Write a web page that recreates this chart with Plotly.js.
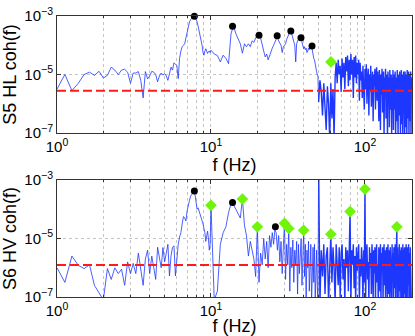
<!DOCTYPE html>
<html>
<head>
<meta charset="utf-8">
<script src="https://cdn.plot.ly/plotly-3.0.1.min.js"></script>
<style>
  html, body { margin: 0; padding: 0; background: #fff; }
  #chart { width: 415px; height: 336px; }
</style>
</head>
<body>
<div id="chart"></div>
<script>
// Coherence spectra as log10(coh) per frequency bin.
// Bins: 1-10 Hz every 0.125 Hz, 10.5-50 Hz every 0.5 Hz, 51-200 Hz every 1 Hz.

// S5 HL
const hlLowLog = [
  -5.5, -5.0, -5.55, -5.3, -5.0, -4.92, -5.03, -4.89,
  -5.12, -5.03, -4.75, -4.85, -5.0, -4.85, -4.82, -4.92,
  -5.3, -4.95, -4.95, -4.9, -5.2, -5.8, -4.9, -5.15,
  -5.05, -4.89, -4.92, -5.0, -5.25, -5.05, -4.95, -5.02,
  -4.97, -5.05, -5.2, -4.9, -4.75, -4.85, -4.6, -4.65,
  -4.7, -5.14, -4.45, -4.2, -4.05, -4.0, -3.95, -3.75,
  -3.55, -3.35, -3.2, -3.12, -3.07, -3.04, -3.0, -3.03,
  -3.1, -3.2, -3.35, -3.5, -3.65, -3.8, -4.0, -4.25,
  -4.34, -4.2, -4.12, -4.2, -4.28, -4.22, -4.2, -4.25,
  -4.17
];
const hlMidLog = [
  -4.3, -4.35, -4.57, -4.34, -4.45, -4.63, -3.6, -3.34, -3.6, -3.8,
  -3.95, -4.27, -3.95, -4.05, -3.95, -4.05, -3.85, -3.9, -3.75, -3.68,
  -3.65, -3.75, -4.05, -4.2, -4.4, -4.3, -4.5, -4.35, -4.2, -4.1,
  -4.0, -3.9, -3.75, -3.7, -3.85, -3.95, -4.0, -4.25, -4.05, -4.0,
  -3.95, -3.8, -3.7, -3.6, -3.55, -3.5, -3.65, -3.8, -3.9, -4.0,
  -4.57, -3.95, -3.85, -3.8, -3.75, -3.75, -3.73, -3.9, -4.0, -4.12,
  -4.05, -4.15, -4.1, -4.25, -4.2, -4.1, -4.15, -4.08, -4.05, -4.03,
  -4.2, -4.35, -4.45, -4.5, -4.7, -4.8, -4.9, -5.0, -5.05, -5.94
];
const hlHighLog = [
  -5.2, -5.6, -6.4, -5.3, -6.1, -6.9, -5.4, -6.0, -7.2, -5.3,
  -6.5, -5.5, -7.2, -5.1, -4.6, -5.3, -4.5, -5.0, -4.7, -5.6,
  -4.45, -5.1, -4.6, -5.5, -4.4, -4.9, -4.35, -5.4, -4.5, -5.2,
  -4.3, -5.0, -4.5, -5.8, -4.4, -5.1, -4.35, -5.3, -4.6, -5.0,
  -4.5, -5.9, -4.6, -5.2, -4.9, -5.8, -4.7, -5.4, -6.2, -4.8,
  -5.5, -4.65, -6.0, -5.1, -4.8, -6.4, -5.0, -5.6, -4.7, -6.1,
  -5.2, -4.9, -6.6, -5.0, -5.4, -4.8, -6.2, -5.1, -4.75, -5.9,
  -4.9, -5.5, -6.6, -4.85, -5.3, -6.9, -5.0, -5.7, -4.8, -6.3,
  -5.2, -4.9, -7.2, -5.1, -5.6, -4.8, -6.5, -5.0, -5.4, -7.2,
  -4.9, -5.8, -5.1, -6.8, -4.85, -5.5, -6.2, -5.0, -7.2, -5.1,
  -5.6, -4.85, -6.9, -5.3, -5.0, -6.2, -4.9, -7.2, -5.4, -5.1,
  -6.6, -4.85, -5.7, -7.2, -5.0, -5.3, -6.4, -4.9, -5.8, -7.2,
  -5.2, -4.85, -6.7, -5.4, -5.0, -7.2, -5.6, -4.9, -6.3, -5.1,
  -7.2, -4.9, -5.5, -6.8, -5.0, -5.3, -7.2, -4.85, -5.9, -5.2,
  -6.5, -4.9, -7.2, -5.4, -5.0, -6.6, -5.2, -4.9, -7.2, -5.1
];
const hlThreshold = 2.8e-6;
const hlPeakF = [7.8, 13.8, 20.5, 26.9, 33.0, 38.4, 45.3];
const hlPeakCoh = [9.9e-4, 4.5e-4, 2.2e-4, 2.1e-4, 3.1e-4, 1.8e-4, 9.4e-5];
const hlLineF = [60.1];
const hlLineCoh = [2.7e-5];

// S6 HV
const hvLowLog = [
  -6.0, -6.5, -5.6, -5.92, -6.03, -5.9, -6.6, -6.85,
  -7.1, -6.03, -6.4, -6.0, -6.2, -6.05, -6.6, -5.8,
  -6.2, -5.85, -6.2, -5.5, -6.1, -6.6, -5.7, -5.4,
  -6.2, -5.6, -6.0, -6.4, -5.3, -5.6, -6.0, -5.31,
  -5.8, -5.5, -5.2, -6.28, -5.6, -5.3, -5.25, -6.28,
  -5.6, -5.2, -4.95, -4.8, -4.5, -4.25, -4.3, -4.4,
  -4.05, -3.8, -3.7, -3.55, -3.48, -3.42, -3.38, -3.5,
  -3.7, -4.0, -3.95, -4.05, -4.15, -4.25, -4.35, -4.5,
  -4.65, -4.8, -5.1, -4.9, -4.75, -5.0, -5.4, -5.2,
  -3.87
];
const hvMidLog = [
  -7.1, -6.8, -5.2, -4.8, -4.6, -4.12, -3.8, -3.85, -4.0, -4.15,
  -4.3, -3.65, -4.55, -4.9, -5.6, -5.1, -5.45, -5.7, -6.3, -4.6,
  -6.5, -5.5, -5.9, -5.0, -5.7, -5.1, -6.0, -4.9, -5.3, -4.8,
  -5.2, -4.7, -4.8, -5.4, -4.9, -5.8, -5.1, -6.2, -5.3, -4.48,
  -6.4, -5.2, -5.9, -4.67, -6.8, -5.3, -6.0, -5.05, -6.5, -5.4,
  -5.9, -5.1, -6.9, -5.2, -6.2, -5.5, -5.0, -6.6, -5.3, -4.72,
  -6.3, -5.2, -7.2, -5.4, -6.0, -5.1, -6.8, -5.5, -5.2, -7.2,
  -5.6, -5.3, -6.5, -5.2, -7.2, -5.7, -5.4, -6.6, -7.2, -2.5
];
const hvHighLog = [
  -7.2, -5.4, -6.3, -5.2, -6.9, -5.6, -5.3, -7.2, -5.5, -4.86,
  -6.5, -5.3, -6.0, -7.2, -5.2, -5.8, -6.6, -5.3, -7.0, -5.5,
  -5.2, -6.4, -5.7, -7.2, -5.3, -6.0, -5.4, -6.8, -5.6, -4.08,
  -7.2, -5.4, -5.9, -5.2, -6.7, -5.6, -7.2, -5.3, -6.1, -5.5,
  -5.2, -7.2, -5.7, -6.3, -5.3, -5.9, -7.2, -5.4, -6.5, -3.31,
  -7.2, -5.5, -5.2, -6.4, -5.8, -7.2, -5.3, -6.0, -5.5, -6.9,
  -5.2, -5.7, -7.2, -5.4, -6.2, -5.3, -7.2, -5.6, -5.2, -6.5,
  -5.9, -7.2, -5.3, -5.6, -6.8, -5.2, -7.2, -5.5, -6.1, -5.3,
  -7.2, -5.8, -5.2, -6.6, -5.4, -7.2, -5.6, -5.3, -6.3, -7.2,
  -5.2, -5.7, -6.9, -5.4, -7.2, -5.3, -6.0, -5.6, -7.2, -5.2,
  -6.4, -5.5, -7.2, -5.3, -5.9, -6.7, -5.2, -7.2, -5.6, -5.4,
  -4.61, -7.2, -5.3, -6.2, -5.6, -7.2, -5.2, -5.8, -6.8, -5.4,
  -7.2, -5.3, -6.0, -5.5, -7.2, -5.2, -6.5, -5.7, -7.2, -5.4,
  -5.3, -6.9, -5.6, -7.2, -5.2, -6.1, -5.5, -7.2, -5.3, -5.9,
  -6.6, -5.2, -7.2, -5.5, -5.8, -7.2, -5.3, -6.3, -5.4, -7.2
];
const hvThreshold = 1.24e-6;
const hvPeakF = [7.8, 13.8, 26.2];
const hvPeakCoh = [4.2e-4, 1.7e-4, 2.5e-5];
const hvLineF = [10, 16, 20, 30, 32, 40, 60, 80, 100, 161];
const hvLineCoh = [1.36e-4, 2.24e-4, 2.5e-5, 3.3e-5, 2.2e-5, 1.9e-5, 1.4e-5, 8.3e-5, 4.9e-4, 2.5e-5];

const xTickVals = [1, 10, 100];
const xTickText = ['10<sup>0</sup>', '10<sup>1</sup>', '10<sup>2</sup>'];
const xMinorVals = [2, 3, 4, 5, 6, 7, 8, 9, 20, 30, 40, 50, 60, 70, 80, 90, 200];
const yTickVals = [1e-7, 1e-5, 1e-3];
const yTickText = ['10<sup>−7</sup>', '10<sup>−5</sup>', '10<sup>−3</sup>'];
const fMin = 1, fMax = 202;

const lineBlue = 'rgb(30,55,255)';

// frequency bins for the three sections
function bins(start, step, n) {
  return Array.from({ length: n }, (_, k) => start + k * step);
}

function toCoh(logs) {
  return logs.map(v => Math.pow(10, v));
}

function makeTraces(lowLog, midLog, highLog, threshold, peakF, peakCoh, lineF, lineCoh, xa, ya) {
  const fLowMid = [...bins(1, 0.125, lowLog.length), ...bins(10.5, 0.5, midLog.length)];
  const cLowMid = toCoh([...lowLog, ...midLog]);
  // the dense band above 50 Hz starts at the last mid bin so the line stays joined
  const fHigh = [fLowMid[fLowMid.length - 1], ...bins(51, 1, highLog.length)];
  const cHigh = [cLowMid[cLowMid.length - 1], ...toCoh(highLog)];
  return [
    {
      x: fLowMid, y: cLowMid, xaxis: xa, yaxis: ya,
      type: 'scatter', mode: 'lines',
      line: { color: lineBlue, width: 0.8 }
    },
    {
      x: fHigh, y: cHigh, xaxis: xa, yaxis: ya,
      type: 'scatter', mode: 'lines',
      line: { color: lineBlue, width: 1.4 }
    },
    {
      x: [fMin, fMax], y: [threshold, threshold], xaxis: xa, yaxis: ya,
      type: 'scatter', mode: 'lines',
      line: { color: '#ff1a1a', width: 2, dash: '9px,4px' }
    },
    {
      x: peakF, y: peakCoh, xaxis: xa, yaxis: ya,
      type: 'scatter', mode: 'markers', cliponaxis: false,
      marker: { color: '#000', size: 7, symbol: 'circle' }
    },
    {
      x: lineF, y: lineCoh, xaxis: xa, yaxis: ya,
      type: 'scatter', mode: 'markers', cliponaxis: false,
      marker: { color: 'rgb(110,245,10)', size: 9, symbol: 'diamond' }
    }
  ];
}

const data = [
  ...makeTraces(hlLowLog, hlMidLog, hlHighLog, hlThreshold, hlPeakF, hlPeakCoh, hlLineF, hlLineCoh, 'x', 'y'),
  ...makeTraces(hvLowLog, hvMidLog, hvHighLog, hvThreshold, hvPeakF, hvPeakCoh, hvLineF, hvLineCoh, 'x2', 'y2')
];

function xAxis(anchor) {
  return {
    anchor: anchor, type: 'log', range: [Math.log10(fMin), Math.log10(fMax)],
    tickmode: 'array', tickvals: xTickVals, ticktext: xTickText,
    ticks: 'inside', ticklen: 4, tickcolor: '#333',
    minor: {
      tickmode: 'array', tickvals: xMinorVals, ticks: 'inside', ticklen: 2, tickcolor: '#333',
      showgrid: true, gridcolor: '#c4c4c4', griddash: 'dot', gridwidth: 1
    },
    showline: true, mirror: 'ticks', linecolor: '#333', linewidth: 1,
    showgrid: true, gridcolor: '#c4c4c4', griddash: 'dot', gridwidth: 1,
    zeroline: false, automargin: false,
    title: { text: 'f (Hz)', standoff: 0 }
  };
}

function yAxis(anchor, domain, label) {
  return {
    anchor: anchor, domain: domain, type: 'log', range: [-7, -3],
    tickmode: 'array', tickvals: yTickVals, ticktext: yTickText,
    ticks: 'inside', ticklen: 4, tickcolor: '#333',
    showline: true, mirror: 'ticks', linecolor: '#333', linewidth: 1,
    showgrid: true, gridcolor: '#c4c4c4', griddash: 'dot', gridwidth: 1,
    zeroline: false, automargin: false,
    title: { text: label, standoff: 4 }
  };
}

const layout = {
  width: 415, height: 336,
  margin: { l: 57, r: 3, t: 16, b: 39 },
  paper_bgcolor: '#fff', plot_bgcolor: '#fff',
  showlegend: false,
  font: { family: 'Liberation Sans, Arial, sans-serif', size: 15, color: '#000' },
  xaxis: xAxis('y'),
  yaxis: yAxis('x', [0.5836, 1], 'S5 HL coh(f)'),
  xaxis2: xAxis('y2'),
  yaxis2: yAxis('x2', [0, 0.4164], 'S6 HV coh(f)')
};

Plotly.newPlot('chart', data, layout, { staticPlot: true, displayModeBar: false });
</script>
</body>
</html>
